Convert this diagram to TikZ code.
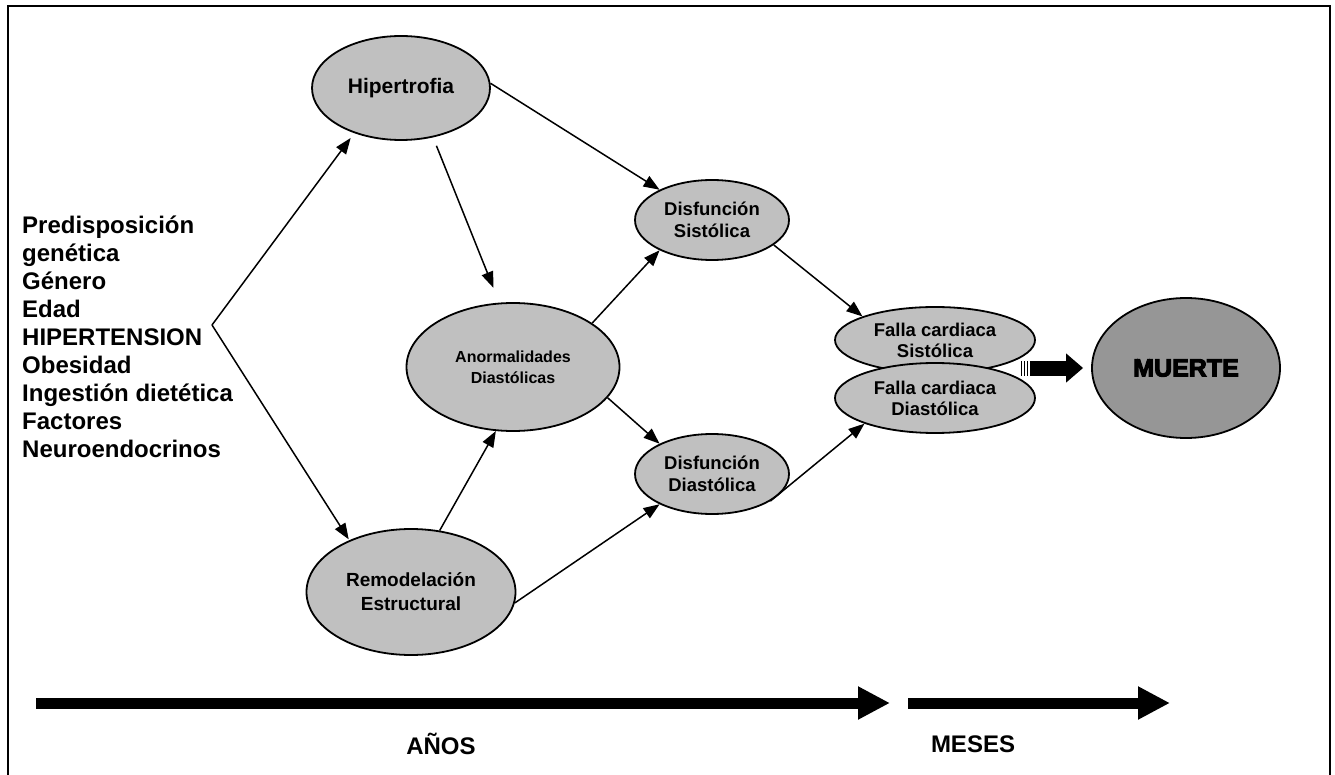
\documentclass[tikz,border=0pt]{standalone}
\usepackage{fontspec}
\setmainfont{Liberation Sans}
\newfontfamily\heavyfont{Liberation Sans Bold}[FakeBold=4]
\usetikzlibrary{arrows.meta,shapes.geometric}
\definecolor{silverc}{RGB}{192,192,192}
\definecolor{deathc}{RGB}{150,150,150}
\begin{document}
\begin{tikzpicture}[x=1pt,y=-1pt,
  bub/.style={ellipse, draw, line width=1.8pt, fill=silverc, inner sep=0pt, align=center},
  arr/.style={line width=1.5pt, -{Triangle[length=16pt,width=12pt]}},
  fat/.style={line width=11pt, -{Triangle[length=32pt,width=31pt]}},
  lbl/.style={font=\fontsize{24}{28}\selectfont\bfseries, inner sep=0pt}]
\useasboundingbox (0,0) rectangle (1335,775);
\fill[white] (0,0) rectangle (1335,775);
\draw[line width=2pt] (8,775) -- (8,6) -- (1330,6) -- (1330,775);

% left list
\node[lbl, anchor=west, align=left] (factors) at (22,337)
  {Predisposición\\genética\\Género\\Edad\\HIPERTENSION\\Obesidad\\Ingestión dietética\\Factores\\Neuroendocrinos};
\coordinate (kink) at (212,325);

% ellipses
\node[bub, minimum width=178pt, minimum height=104pt, font=\fontsize{21}{24}\selectfont\bfseries] (hip) at (401,88) {Hipertrofia};
\node[bub, minimum width=213pt, minimum height=128pt, font=\fontsize{16}{21}\selectfont\bfseries] (anor) at (513,367) {Anormalidades\\Diastólicas};
\node[bub, minimum width=209pt, minimum height=126pt, font=\fontsize{19}{24}\selectfont\bfseries] (remo) at (411,592) {Remodelación\\Estructural};
\node[bub, minimum width=154pt, minimum height=80pt, font=\fontsize{18.5}{22}\selectfont\bfseries] (dsis) at (712,220) {Disfunción\\Sistólica};
\node[bub, minimum width=154pt, minimum height=80pt, font=\fontsize{18.5}{22}\selectfont\bfseries] (ddia) at (712,474) {Disfunción\\Diastólica};
\node[bub, minimum width=200pt, minimum height=66pt, font=\fontsize{18.5}{21}\selectfont\bfseries] (fsis) at (935,340) {Falla cardiaca\\Sistólica};
\node[bub, minimum width=200pt, minimum height=70pt, font=\fontsize{18.5}{21}\selectfont\bfseries] (fdia) at (935,398) {Falla cardiaca\\Diastólica};
\node[bub, fill=deathc, minimum width=188pt, minimum height=140pt, font=\fontsize{25}{30}\heavyfont] (muerte) at (1186,368) {MUERTE};

% connectors
\draw[arr, shorten >=6pt] (kink) -- (hip.224);
\draw[arr, shorten >=1pt] (kink) -- (remo.140);
\draw[arr, shorten <=9pt, shorten >=16pt] (hip.303) -- (anor.102);
\draw[arr] (hip.3) -- (dsis.150);
\draw[arr] (remo.65) -- (anor.255);
\draw[arr] (remo.354) -- (ddia.210);
\draw[arr] (anor.29) -- (dsis.210);
\draw[arr] (anor.342) -- (ddia.150);
\draw[arr] (dsis.338) -- (fsis.162);
\draw[arr] (ddia.335) -- (fdia.200);

% fat striped arrow to MUERTE
\coordinate (fa) at (1021,368);
\draw[line width=15pt, -{Triangle[length=17pt,width=28pt]}, shorten >=8pt] (fa) -- (muerte.west);
\fill[white] (1022.3,360) rectangle (1023.9,376);
\fill[white] (1025.3,360) rectangle (1026.9,376);
\fill[white] (1028.3,360) rectangle (1029.5,376);

% time arrows
\coordinate (a1) at (36,703);
\coordinate (a2) at (890,703);
\coordinate (m1) at (908,703);
\coordinate (m2) at (1170,703);
\draw[fat] (a1) -- (a2);
\draw[fat] (m1) -- (m2);
\node[lbl] (anos) at (441,744) {AÑOS};
\node[lbl] (meses) at (973,744) {MESES};
\end{tikzpicture}
\end{document}
